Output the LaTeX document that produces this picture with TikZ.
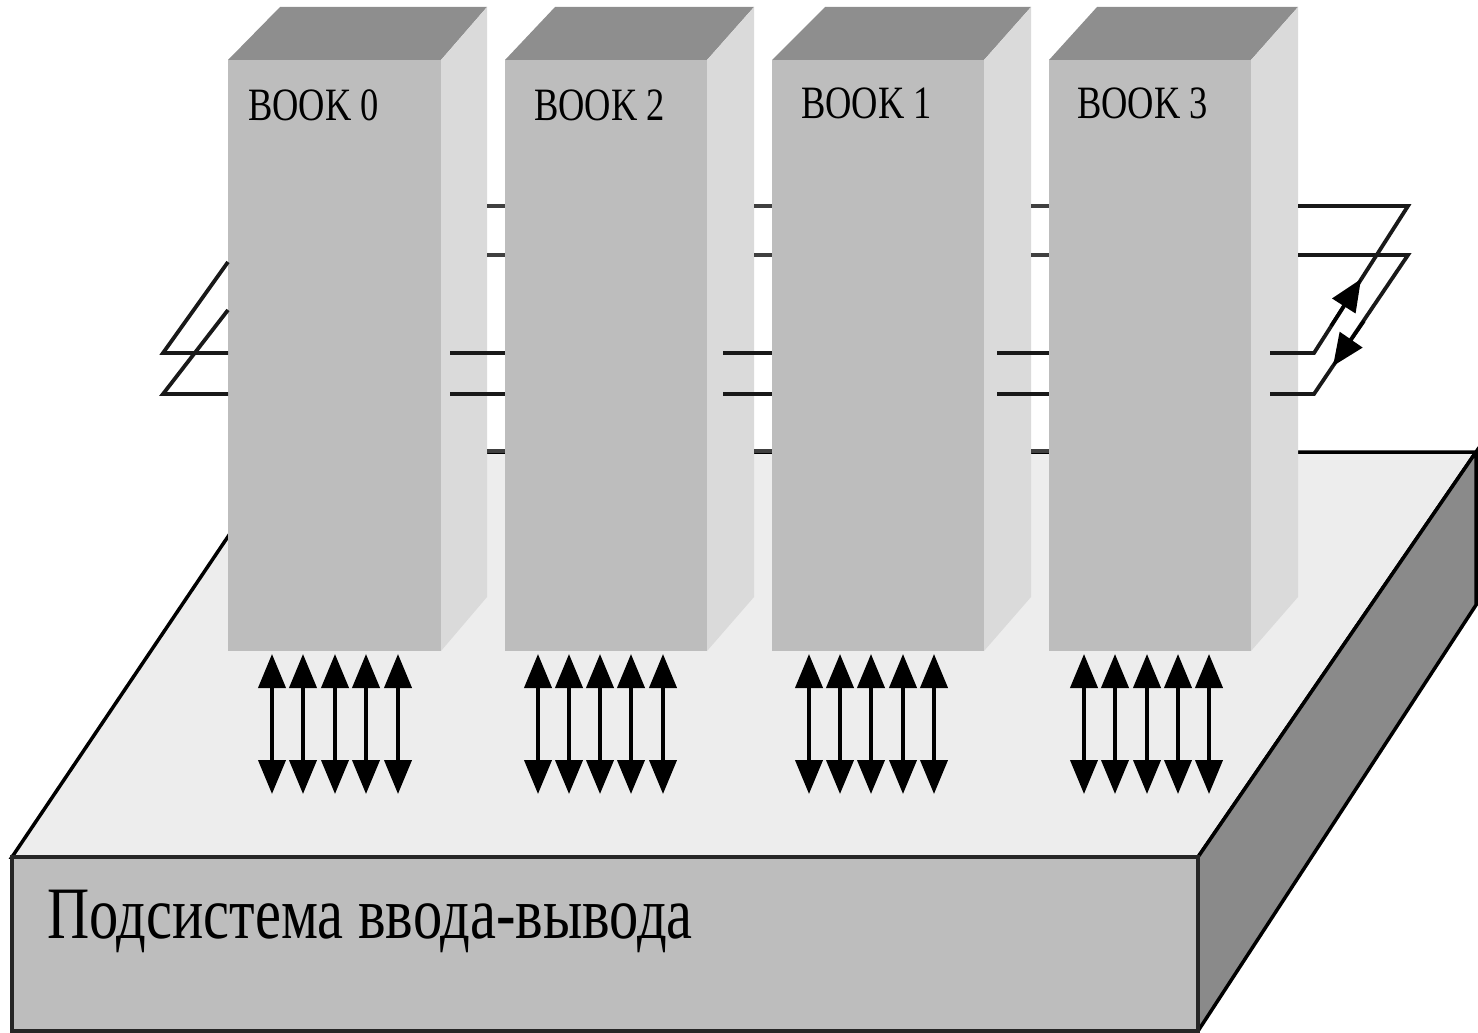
\documentclass[tikz,border=0pt]{standalone}
\usepackage{fontspec}
\setmainfont{Liberation Serif}
\usetikzlibrary{arrows.meta}
\definecolor{frontgray}{HTML}{BDBDBD}
\definecolor{sidegray}{HTML}{DADADA}
\definecolor{topgray}{HTML}{8E8E8E}
\definecolor{plategray}{HTML}{EDEDED}
\definecolor{edgegray}{HTML}{8A8A8A}
\tikzset{
  bookfront/.style={fill=frontgray,draw=none},
  bookside/.style={fill=sidegray,draw=none},
  booktop/.style={fill=topgray,draw=none},
  platetop/.style={fill=plategray,draw=black,line width=3.5pt,line join=miter},
  platefront/.style={fill=frontgray,draw=black!85,line width=4pt,line join=miter},
  plateside/.style={fill=edgegray,draw=black,line width=3.5pt,line join=miter},
  wire/.style={draw=black!90,line width=3.8pt,line join=miter},
  shortwire/.style={draw=black!75,line width=3.5pt},
  bus/.style={draw=black,line width=4pt,{Triangle[length=34pt,width=27pt]}-{Triangle[length=34pt,width=27pt]}},
  ringarrow/.style={draw=black,line width=3.5pt,-{Triangle[length=32pt,width=27pt]}},
  booklabel/.style={font=\fontsize{38}{38}\selectfont,anchor=base west,inner sep=0pt,yscale=1.22,xscale=.96,transform shape},
  iolabel/.style={font=\fontsize{66}{66}\selectfont,anchor=base west,inner sep=0pt,yscale=1.12,xscale=.885,transform shape}
}
\begin{document}
\begin{tikzpicture}[x=1pt,y=-1pt]
\useasboundingbox (0,0) rectangle (1478,1033);
% plate
\coordinate (pa) at (12,857);
\coordinate (pb) at (1198,857);
\coordinate (pc) at (1476,452);
\coordinate (pd) at (285,452);
\coordinate (pe) at (1198,1031);
\coordinate (pf) at (12,1031);
\coordinate (pg) at (1476,605);
\path[platetop] (pa) -- (pb) -- (pc) -- (pd) -- cycle;
\path[plateside] (pb) -- (pc) -- (pg) -- (pe) -- cycle;
\path[platefront] (pa) -- (pb) -- (pe) -- (pf) -- cycle;
% books: left, right of front, top-left, right of side
\foreach \n/\l/\r/\tl/\s in {a/228/441/280/487,b/505/707/555/754,c/772/984/825/1031,d/1049/1251/1097/1298}{
  \path[booktop] (\l,60) -- (\tl,7) -- (\s,7) -- (\r,60) -- cycle;
  \path[bookside] (\r,60) -- (\s,7) -- (\s,597) -- (\r,651) -- cycle;
  \path[bookfront] (\l,60) rectangle (\r,651);
}
\node[booklabel] (b0) at (248,120) {BOOK 0};
\node[booklabel] (b2) at (534,120) {BOOK 2};
\node[booklabel] (b1) at (801,118) {BOOK 1};
\node[booklabel] (b3) at (1077,118) {BOOK 3};
\node[iolabel] (io) at (47,938) {Подсистема ввода-вывода};
% wires between the books
\foreach \a/\b in {487/505,754/772,1031/1049}{
  \foreach \y in {206,255,451}{
    \coordinate (u) at (\a,\y); \coordinate (v) at (\b,\y);
    \draw[shortwire] (u) -- (v);
  }
}
\foreach \a/\b in {450/505,723/772,997/1049}{
  \foreach \y in {353,394}{
    \coordinate (u) at (\a,\y); \coordinate (v) at (\b,\y);
    \draw[wire] (u) -- (v);
  }
}
% right loop
\coordinate (r1) at (1270,353);
\coordinate (r2) at (1314,353);
\coordinate (r3) at (1408,206);
\coordinate (r4) at (1298,206);
\coordinate (s1) at (1270,394);
\coordinate (s2) at (1314,394);
\coordinate (s3) at (1408,255);
\coordinate (s4) at (1298,255);
\coordinate (m1) at (1331,326);
\coordinate (m1e) at (1361,279);
\coordinate (m2) at (1364,321);
\coordinate (m2e) at (1333,366);
\draw[wire] (r1) -- (r2) -- (r3) -- (r4);
\draw[wire] (s1) -- (s2) -- (s3) -- (s4);
\draw[ringarrow] (m1) -- (m1e);
\draw[ringarrow] (m2) -- (m2e);
% left loop
\coordinate (l1) at (228,353);
\coordinate (l2) at (163,353);
\coordinate (l3) at (228,262);
\coordinate (k1) at (228,394);
\coordinate (k2) at (163,394);
\coordinate (k3) at (228,310);
\draw[wire] (l1) -- (l2) -- (l3);
\draw[wire] (k1) -- (k2) -- (k3);
% buses
\foreach \x in {272,303,335,366,398,538,569,600,631,663,809,840,871,903,934,1084,1115,1147,1178,1209}{
  \coordinate (t) at (\x,654); \coordinate (f) at (\x,794);
  \draw[bus] (t) -- (f);
}
\end{tikzpicture}
\end{document}
